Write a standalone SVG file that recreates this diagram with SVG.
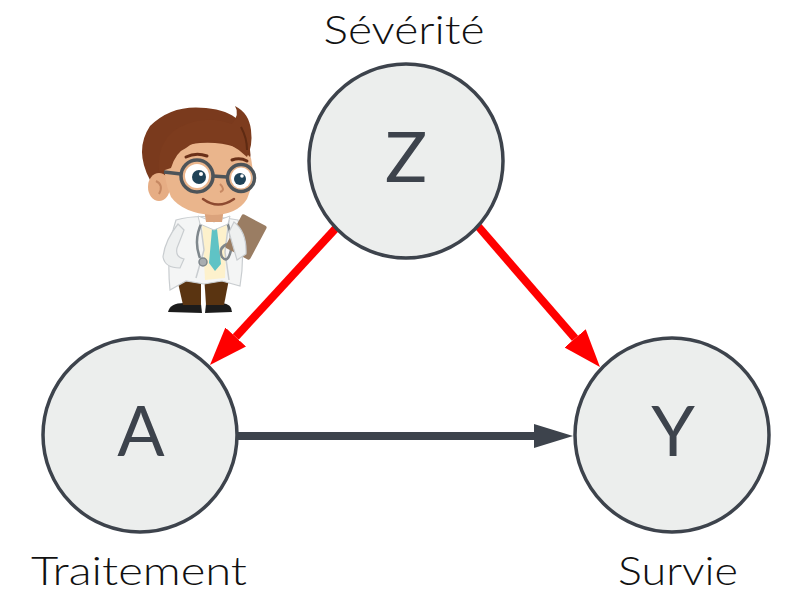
<svg xmlns="http://www.w3.org/2000/svg" width="785" height="592" viewBox="0 0 785 592">
  <style>
    .node { fill: #eceeed; stroke: #3d434c; stroke-width: 3.5; }
    .sym { font-family: Lato, "Liberation Sans", sans-serif; font-size: 70px; fill: #3d434c; text-anchor: middle; }
    .lbl { font-family: Lato, "Liberation Sans", sans-serif; font-size: 39px; font-weight: 300; fill: #111; text-anchor: middle; }
    .red { stroke: #ff0000; stroke-width: 8; fill: none; }
    .dark { stroke: #3d434c; stroke-width: 8; fill: none; }
  </style>
  <defs>
    <marker id="headRed" markerUnits="userSpaceOnUse" viewBox="0 0 38 28" refX="0" refY="14" markerWidth="38" markerHeight="28" orient="auto">
      <path d="M0,0 L38,14 L0,28 Z" fill="#ff0000"/>
    </marker>
    <marker id="headDark" markerUnits="userSpaceOnUse" viewBox="0 0 39 24" refX="0" refY="12" markerWidth="39" markerHeight="24" orient="auto">
      <path d="M0,0 L39,12 L0,24 Z" fill="#3d434c"/>
    </marker>
  </defs>

  <rect width="785" height="592" fill="#ffffff"/>

  <!-- edges -->
  <g id="edges">
    <line class="red" x1="337" y1="227" x2="235.7" y2="337" marker-end="url(#headRed)"/>
    <line class="red" x1="477" y1="225" x2="575.1" y2="338.3" marker-end="url(#headRed)"/>
    <line class="dark" x1="237" y1="436" x2="534" y2="436" marker-end="url(#headDark)"/>
  </g>

  <!-- nodes -->
  <g id="node-z">
    <circle class="node" cx="406" cy="161" r="97"/>
    <text class="sym" x="406" y="182">Z</text>
    <text class="lbl" x="404" y="44" textLength="161" lengthAdjust="spacingAndGlyphs">Sévérité</text>
  </g>
  <g id="node-a">
    <circle class="node" cx="140" cy="435" r="97"/>
    <text class="sym" x="141" y="456">A</text>
    <text class="lbl" x="139" y="585" textLength="216" lengthAdjust="spacingAndGlyphs">Traitement</text>
  </g>
  <g id="node-y">
    <circle class="node" cx="672" cy="435" r="97"/>
    <text class="sym" x="673" y="456">Y</text>
    <text class="lbl" x="678" y="585" textLength="120" lengthAdjust="spacingAndGlyphs">Survie</text>
  </g>

  <!-- doctor figure -->
  <g id="doctor">
    <!-- shoes -->
    <path d="M168,312 Q170,303 184,303 L201,304 L202,313 Z" fill="#1c1c1c"/>
    <path d="M205,313 L206,304 L222,303 Q232,304 232,312 Z" fill="#1c1c1c"/>
    <!-- trousers -->
    <path d="M176,274 L201,274 L201,305 L183,305 Z" fill="#5a3411"/>
    <path d="M204,274 L230,274 L224,305 L206,305 Z" fill="#5a3411"/>
    <!-- coat -->
    <path d="M176,220 Q200,213 238,220 Q246,250 240,286 L222,281 L204,284 L186,281 L170,290 Q166,250 176,220 Z" fill="#f4f5f5" stroke="#c9cdd0" stroke-width="1.2"/>
    <!-- shirt and tie -->
    <path d="M202,222 L227,222 L225,278 L205,280 Z" fill="#fdf1cc"/>
    <path d="M210,223 L219,223 L217,229 L221,264 L215,271 L209,263 L212,229 Z" fill="#5fc3c5"/>
    <!-- coat lapels -->
    <path d="M200,220 L204,250 L196,278" fill="none" stroke="#c9cdd0" stroke-width="1.5"/>
    <path d="M229,220 L225,252 L229,280" fill="none" stroke="#c9cdd0" stroke-width="1.5"/>
    <!-- stethoscope -->
    <path d="M202,222 Q193,240 200,258" fill="none" stroke="#7f878c" stroke-width="2.5"/>
    <circle cx="203" cy="262" r="4" fill="#a8adb0" stroke="#7f878c" stroke-width="1.5"/>
    <path d="M227,222 Q233,238 231,250 Q228,264 222,257 Q218,248 227,244" fill="none" stroke="#7f878c" stroke-width="2.5"/>
    <!-- left arm -->
    <path d="M178,224 Q165,240 163,257 Q165,268 180,268 L184,259 Q175,257 177,248 Q181,238 184,230 Z" fill="#eef0f0" stroke="#c9cdd0" stroke-width="1.2"/>
    <!-- clipboard -->
    <g transform="rotate(28 246 237)">
      <rect x="232" y="218" width="28" height="38" rx="2" fill="#9a7d63"/>
    </g>
    <!-- right arm -->
    <path d="M234,222 Q247,232 246,254 L237,260 Q233,246 229,232 Z" fill="#eef0f0" stroke="#c9cdd0" stroke-width="1.2"/>
    <!-- collar -->
    <path d="M198,216 L214,222 L230,216 L228,224 L214,230 L200,224 Z" fill="#ffffff" stroke="#c9cdd0" stroke-width="1"/>
    <!-- neck -->
    <path d="M204,208 L224,208 L222,222 L206,222 Z" fill="#dba37c"/>
    <!-- hair back -->
    <path d="M150,180 Q134,150 150,126 Q172,104 206,108 Q228,110 238,120 Q248,128 250,150 Q252,160 246,168 L160,188 Z" fill="#7a3a1d"/>
    <!-- ear -->
    <ellipse cx="159" cy="187" rx="11" ry="14" fill="#e6ad84"/>
    <path d="M156,181 Q164,185 159,194" fill="none" stroke="#c68862" stroke-width="2"/>
    <!-- face -->
    <path d="M165,160 Q170,145 200,143 Q237,141 251,158 Q256,180 247,199 Q237,215 212,215 Q183,213 171,197 Q163,180 165,160 Z" fill="#eab58c"/>
    <!-- fringe -->
    <path d="M159,172 Q156,140 180,127 Q205,114 232,124 Q240,114 235,106 Q249,113 251,130 Q253,146 247,157 Q232,142 214,140 Q196,140 186,148 Q176,152 171,168 Z" fill="#7d3c1e"/>
    <path d="M241,127 Q247,138 247,150" fill="none" stroke="#5e2a12" stroke-width="2"/>
    <!-- eyebrows -->
    <path d="M186,157 Q196,152 207,156" fill="none" stroke="#6a3018" stroke-width="3" stroke-linecap="round"/>
    <path d="M232,160 Q240,157 247,161" fill="none" stroke="#6a3018" stroke-width="3" stroke-linecap="round"/>
    <!-- eyes -->
    <ellipse cx="197" cy="176" rx="12" ry="12" fill="#ffffff"/>
    <ellipse cx="241" cy="178" rx="10" ry="10.5" fill="#ffffff"/>
    <circle cx="199" cy="177" r="7" fill="#1f4257"/>
    <circle cx="240" cy="179" r="6" fill="#1f4257"/>
    <circle cx="201" cy="174" r="2" fill="#ffffff"/>
    <circle cx="242" cy="176" r="1.8" fill="#ffffff"/>
    <!-- glasses -->
    <g fill="none" stroke="#4d5459" stroke-width="3.5">
      <circle cx="197" cy="176" r="16"/>
      <circle cx="241" cy="178" r="13.5"/>
      <path d="M213,176 L227,177"/>
      <path d="M181,174 L164,172"/>
    </g>
    <!-- nose and smile -->
    <path d="M220,184 Q226,190 220,192" fill="none" stroke="#c68862" stroke-width="2"/>
    <path d="M203,199 Q218,210 234,199" fill="none" stroke="#8d4a30" stroke-width="2.5" stroke-linecap="round"/>
  </g>
</svg>
